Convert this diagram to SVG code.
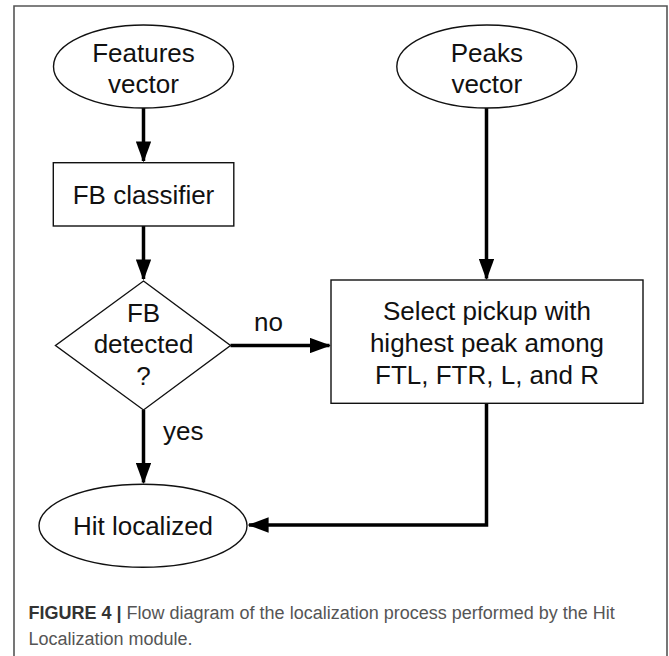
<svg xmlns="http://www.w3.org/2000/svg" width="669" height="656" viewBox="0 0 669 656">
<defs>
<style>
.shape{fill:#fff;stroke:#111;stroke-width:1.4}
.t{font-family:"Liberation Sans",Arial,sans-serif;font-size:26px;fill:#111;text-anchor:middle}
.lbl{font-family:"Liberation Sans",Arial,sans-serif;font-size:26px;fill:#111}
.edge{fill:none;stroke:#000;stroke-width:3.5}
.cap{font-family:"Liberation Sans",Arial,sans-serif;font-size:18px;fill:#555}
</style>
<marker id="ah" markerWidth="6" markerHeight="4.4" refX="5.6" refY="2.2" orient="auto" markerUnits="strokeWidth">
<path d="M0,0 L6,2.2 L0,4.4 Z" fill="#000"/>
</marker>
</defs>
<rect width="669" height="656" fill="#fff"/>
<path d="M14,660 L14,6 L667,6 L667,660" fill="none" stroke="#555" stroke-width="1.6"/>
<g id="connectors">
<line class="edge" x1="143.5" y1="108" x2="143.5" y2="161" marker-end="url(#ah)"/>
<line class="edge" x1="143.5" y1="226" x2="143.5" y2="279" marker-end="url(#ah)"/>
<line class="edge" x1="486.5" y1="108" x2="486.5" y2="278.5" marker-end="url(#ah)"/>
<line class="edge" x1="230.5" y1="345.5" x2="329.5" y2="345.5" marker-end="url(#ah)"/>
<line class="edge" x1="143.5" y1="410" x2="143.5" y2="482.5" marker-end="url(#ah)"/>
<polyline class="edge" points="486.5,403 486.5,525 249,525" marker-end="url(#ah)"/>
<text class="lbl" x="254" y="331">no</text>
<text class="lbl" x="163" y="440">yes</text>
</g>
<g id="features">
<ellipse class="shape" cx="143.5" cy="66.5" rx="90" ry="41.5"/>
<text class="t" x="143.5" y="62">Features</text>
<text class="t" x="143.5" y="93">vector</text>
</g>
<g id="peaks">
<ellipse class="shape" cx="486.8" cy="66.5" rx="90" ry="41.5"/>
<text class="t" x="486.8" y="62">Peaks</text>
<text class="t" x="486.8" y="93">vector</text>
</g>
<g id="classifier">
<rect class="shape" x="53.3" y="162.7" width="180.5" height="63.3"/>
<text class="t" x="143.5" y="204">FB classifier</text>
</g>
<g id="decision">
<polygon class="shape" points="143.5,281 230.5,345.5 143.5,410 55.5,345.5"/>
<text class="t" x="143.5" y="321.5">FB</text>
<text class="t" x="143.5" y="353">detected</text>
<text class="t" x="143.5" y="385">?</text>
</g>
<g id="select">
<rect class="shape" x="331" y="280" width="312" height="123.3"/>
<text class="t" x="487" y="320">Select pickup with</text>
<text class="t" x="487" y="352">highest peak among</text>
<text class="t" x="487" y="383.5">FTL, FTR, L, and R</text>
</g>
<g id="hit">
<ellipse class="shape" cx="143" cy="525.8" rx="104" ry="41.5"/>
<text class="t" x="143" y="535">Hit localized</text>
</g>
<text class="cap" x="28.5" y="618.5"><tspan font-weight="bold" fill="#333">FIGURE 4</tspan><tspan fill="#333" font-weight="bold"> | </tspan>Flow diagram of the localization process performed by the Hit</text>
<text class="cap" x="28.5" y="645">Localization module.</text>
</svg>
